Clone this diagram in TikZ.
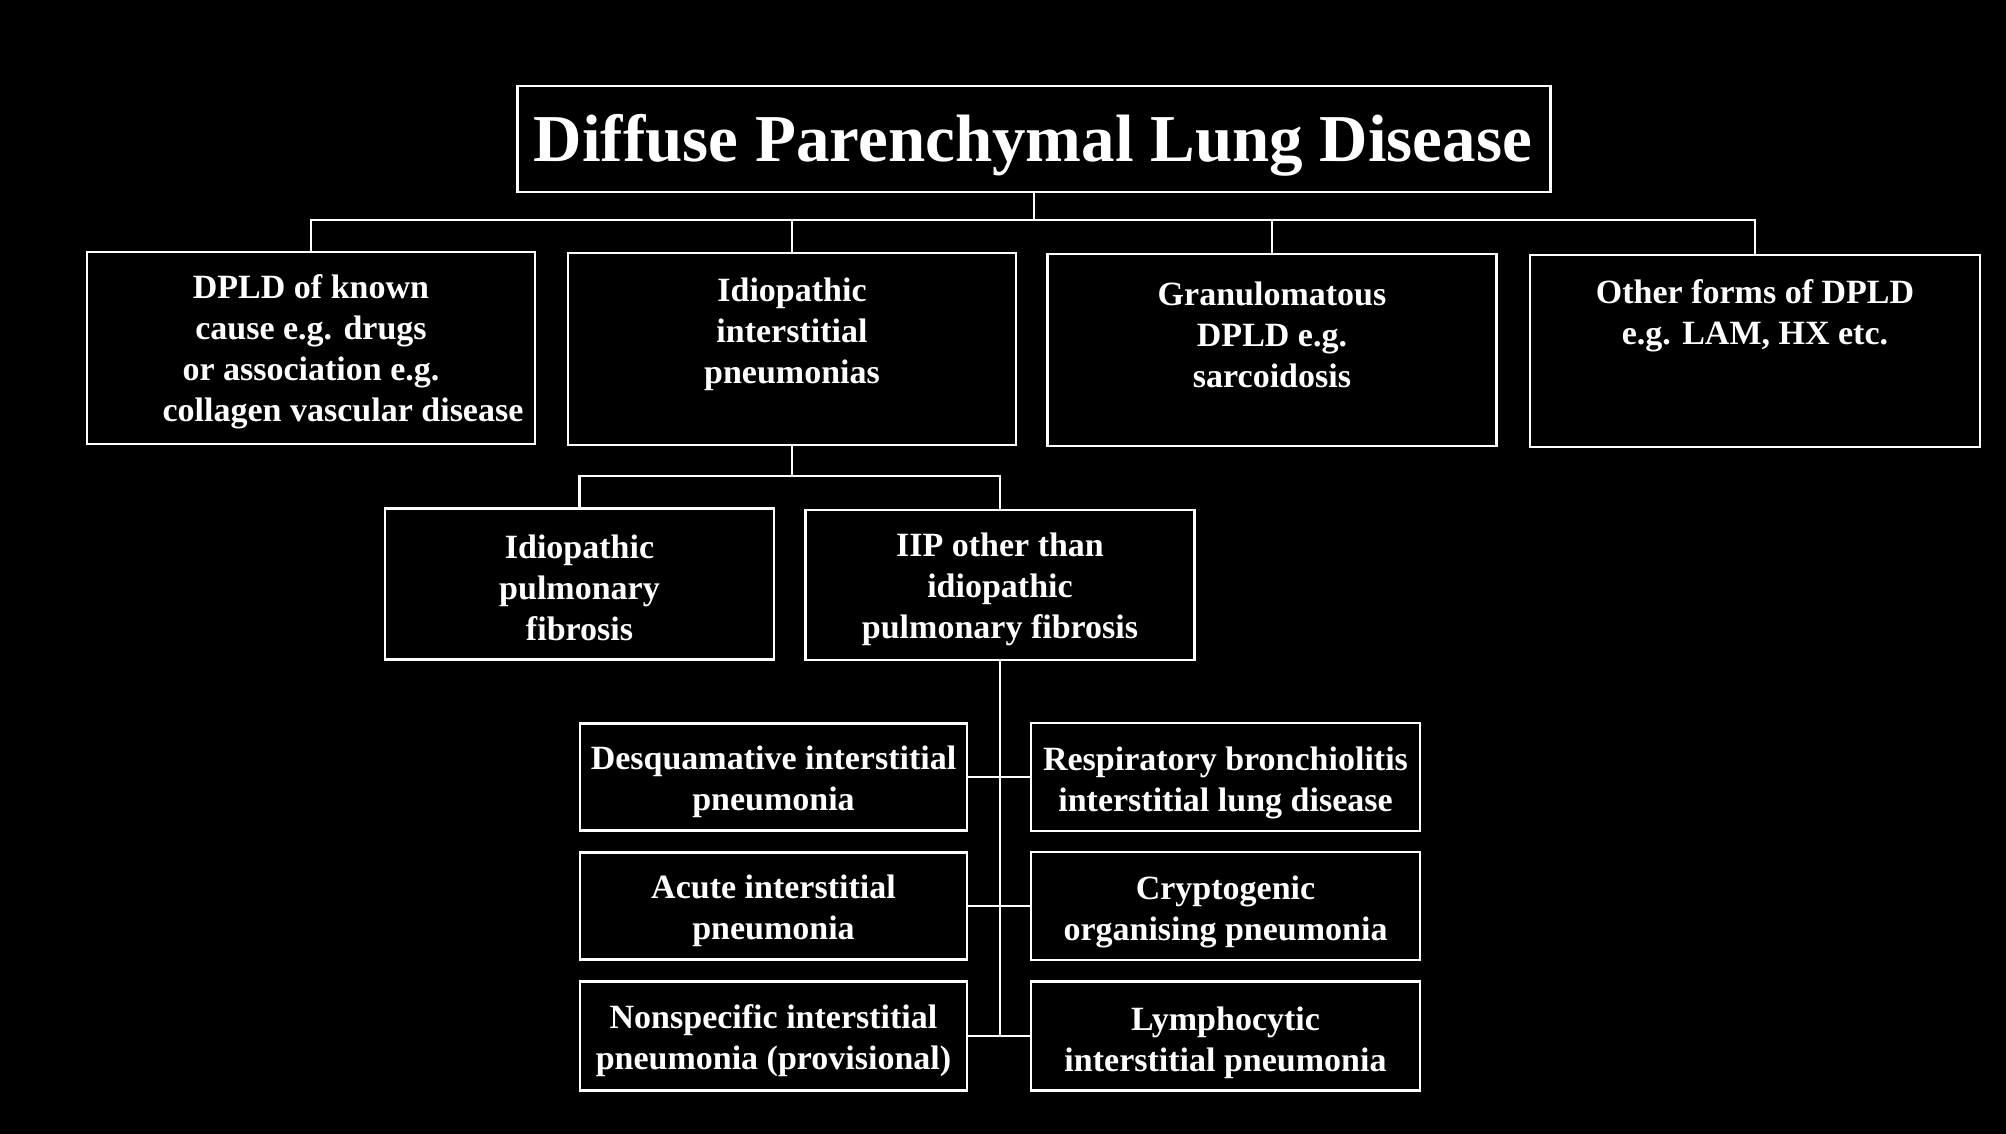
\documentclass[tikz,border=0pt]{standalone}
\usepackage{fontspec}
\setmainfont{Liberation Serif}
\begin{document}
\begin{tikzpicture}[x=0.5pt,y=-0.5pt,
  box/.style={draw=white,line width=1.4pt,inner sep=0pt,minimum width={0.5pt*#1}},
  box/.default={448},
  txt/.style={text=white,align=center,inner sep=0pt,font=\fontsize{17}{20.5}\selectfont\bfseries},
  conn/.style={draw=white,line width=1.2pt}]
\fill[black] (0,0) rectangle (2006,1134);
\useasboundingbox (0,0) rectangle (2006,1134);
% title
\node[box={1033},minimum height=53pt] (title) at (1034,139) {};
\node[text=white,inner sep=0pt,font=\fontsize{33.5}{40}\selectfont\bfseries] (titletxt) at (1033,145) {Diffuse Parenchymal Lung Disease};
% row 1
\node[box={448},minimum height=96pt] (b1) at (311,348) {};
\node[box={448},minimum height=96pt] (b2) at (792,349) {};
\node[box={449},minimum height=96pt] (b3) at (1272,350) {};
\node[box={450},minimum height=96pt] (b4) at (1755,351) {};
\node[txt] (t1) at (311,352) {DPLD of known\\cause e.g. drugs\\or association e.g.\\\hspace*{32pt}collagen vascular disease};
\node[txt] (t2) at (792,334) {Idiopathic\\interstitial\\pneumonias};
\node[txt] (t3) at (1272,335) {Granulomatous\\DPLD e.g.\\sarcoidosis};
\node[txt] (t4) at (1755,316) {Other forms of DPLD\\e.g. LAM, HX etc.};
\coordinate (bus) at (1034,220);
\draw[conn] (title.south) -- (bus);
\draw[conn] (b1.north) |- (bus) -| (b4.north);
\draw[conn] (b2.north) -- (b2.north |- bus);
\draw[conn] (b3.north) -- (b3.north |- bus);
% row 2
\node[box={389},minimum height=75.5pt] (ipf) at (579.5,584) {};
\node[box={389},minimum height=75pt] (iip) at (1000,585) {};
\node[txt] (tipf) at (579.5,588) {Idiopathic\\pulmonary\\fibrosis};
\node[txt] (tiip) at (1000,589) {IIP other than\\idiopathic\\pulmonary fibrosis};
\coordinate (bus2) at (792,476);
\draw[conn] (b2.south) -- (bus2);
\draw[conn] (ipf.north) |- (bus2) -| (iip.north);
% row 3
\node[box={387},minimum height=53.5pt] (dip) at (773.5,777) {};
\node[box={387},minimum height=53.5pt] (aip) at (773.5,906) {};
\node[box={387},minimum height=54.5pt] (nsip) at (773.5,1036) {};
\node[box={389},minimum height=54pt] (rb) at (1225.5,777) {};
\node[box={389},minimum height=54pt] (cop) at (1225.5,906) {};
\node[box={389},minimum height=54.5pt] (lip) at (1225.5,1036) {};
\node[txt] (tdip) at (773.5,782) {Desquamative interstitial\\pneumonia};
\node[txt] (taip) at (773.5,911) {Acute interstitial\\pneumonia};
\node[txt] (tnsip) at (773.5,1041) {Nonspecific interstitial\\pneumonia (provisional)};
\node[txt] (trb) at (1225.5,783) {Respiratory bronchiolitis\\interstitial lung disease};
\node[txt] (tcop) at (1225.5,912) {Cryptogenic\\organising pneumonia};
\node[txt] (tlip) at (1225.5,1043) {Lymphocytic\\interstitial pneumonia};
\coordinate (spine) at (1000,1036);
\draw[conn] (iip.south) -- (spine);
\draw[conn] (dip) -- (rb);
\draw[conn] (aip) -- (cop);
\draw[conn] (nsip) -- (lip);
\end{tikzpicture}
\end{document}
